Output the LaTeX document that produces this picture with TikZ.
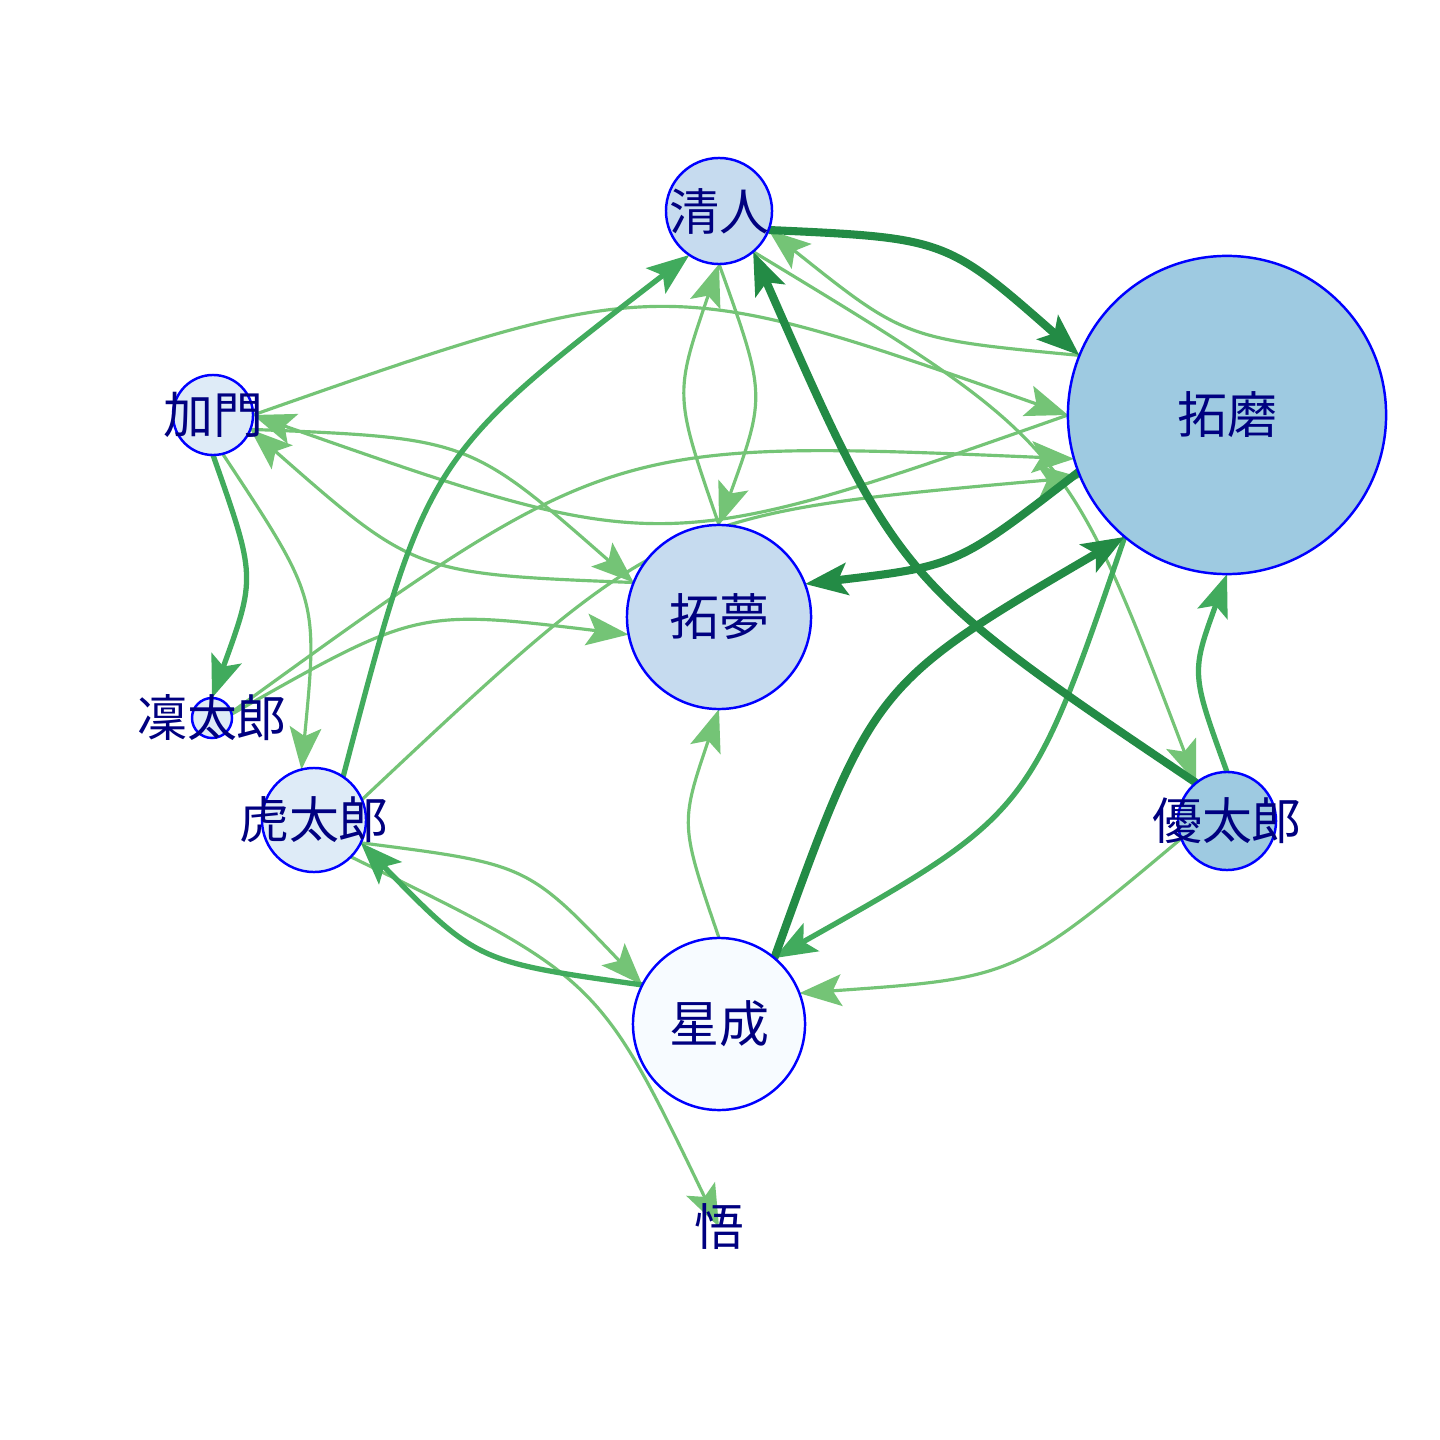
\documentclass[tikz,border=0pt]{standalone}
\usepackage{fontspec}
\newfontfamily\cjk{Noto Sans CJK JP}
\usetikzlibrary{arrows.meta}
\pgfdeclarelayer{bg}
\pgfdeclarelayer{edges}
\pgfsetlayers{bg,edges,main}
\definecolor{elight}{HTML}{74C476}
\definecolor{emed}{HTML}{41AB5D}
\definecolor{edark}{HTML}{238B45}
\definecolor{fA}{HTML}{F7FBFF}
\definecolor{fB}{HTML}{DEEBF7}
\definecolor{fC}{HTML}{C6DBEF}
\definecolor{fD}{HTML}{9ECAE1}
\definecolor{lblc}{HTML}{000080}
\tikzset{
  vtx/.style={circle, draw=blue, line width=0.7pt, inner sep=0pt, outer sep=0pt},
  lbl/.style={text=lblc, font=\cjk\fontsize{14.2}{16}\selectfont, inner sep=0pt},
  tipA/.style={-{Stealth[length=12pt,width=9pt,inset=2.5pt]}},
  elt/.style={tipA, draw=elight, line width=0.9pt, fill=none},
  emd/.style={tipA, draw=emed, line width=1.5pt},
  edk/.style={tipA, draw=edark, line width=2.3pt},
}
\begin{document}
\begin{tikzpicture}[x=0.01cm,y=-0.01cm]
\begin{pgfonlayer}{bg}
\fill[white] (0,0) rectangle (1440,1440);
\end{pgfonlayer}
\useasboundingbox (0,0) rectangle (1440,1440);

% vertices
\node[vtx, fill=fC, minimum size=1.06cm, label={[lbl]center:清人}] (qr) at (719,211) {};
\node[vtx, fill=fD, minimum size=3.18cm, label={[lbl]center:拓磨}] (tm) at (1227,415) {};
\node[vtx, fill=fB, minimum size=0.80cm, label={[lbl]center:加門}] (km) at (213,415) {};
\node[vtx, fill=fC, minimum size=1.84cm, label={[lbl]center:拓夢}] (ty) at (719,617) {};
\node[vtx, fill=fB, minimum size=0.40cm, label={[lbl]center:凜太郎}] (rt) at (212,718) {};
\node[vtx, fill=fB, minimum size=1.04cm, label={[lbl]center:虎太郎}] (kt) at (314,820) {};
\node[vtx, fill=fD, minimum size=0.98cm, label={[lbl]center:優太郎}] (yt) at (1227,821) {};
\node[vtx, fill=fA, minimum size=1.72cm, label={[lbl]center:星成}] (ss) at (719,1024) {};
\node[circle, inner sep=0pt, outer sep=0pt, minimum size=0pt, label={[lbl]center:悟}] (sa) at (719,1227) {};

\begin{pgfonlayer}{edges}
% light edges
\draw[elt] (tm.158.1) .. controls (905,339) .. (qr.-21.9);
\draw[elt] (qr.-50.2) .. controls (1066,441) .. (yt.129.8);
\draw[elt] (qr.south) .. controls (766,395) .. (ty.north);
\draw[elt] (ty.north) .. controls (674,395) .. (qr.south);
\draw[elt] (yt.201.8) .. controls (1015,978) .. (ss.21.8);
\draw[elt] (ss.north) .. controls (680,824) .. (ty.south);
\draw[elt] (kt.-26.7) .. controls (527,864) .. (ss.153.3);
\draw[elt] (kt.-45.1) .. controls (599,978) .. (sa.center);
\draw[elt] (km.east) .. controls (661,272) .. (tm.west);
\draw[elt] (tm.west) .. controls (661,558) .. (km.east);
\draw[elt] (km.-21.8) .. controls (469,438) .. (ty.158.2);
\draw[elt] (ty.158.2) .. controls (415,574) .. (km.-21.8);
\draw[elt] (km.-76) .. controls (318,598) .. (kt.104);
\draw[elt] (rt.16.6) .. controls (609,439) .. (tm.196.6);
\draw[elt] (rt.11.3) .. controls (417,609) .. (ty.191.3);
\draw[elt] (kt.23.9) .. controls (666,514) .. (tm.203.9);
% medium edges
\draw[emd] (kt.56.4) .. controls (427,457) .. (qr.236.4);
\draw[emd] (tm.230.2) .. controls (1030,814) .. (ss.50.2);
\draw[emd] (yt.north) .. controls (1191,673) .. (tm.south);
\draw[emd] (ss.153.3) .. controls (477,962) .. (kt.-26.7);
\draw[emd] (km.south) .. controls (256,577) .. (rt.north);
% dark edges
\draw[edk] (qr.-21.9) .. controls (946,238) .. (tm.158.1);
\draw[edk] (yt.129.8) .. controls (898,582) .. (qr.-50.2);
\draw[edk] (tm.201.7) .. controls (957,566) .. (ty.21.7);
\draw[edk] (ss.50.2) .. controls (873,684) .. (tm.230.2);
\end{pgfonlayer}
\end{tikzpicture}
\end{document}
